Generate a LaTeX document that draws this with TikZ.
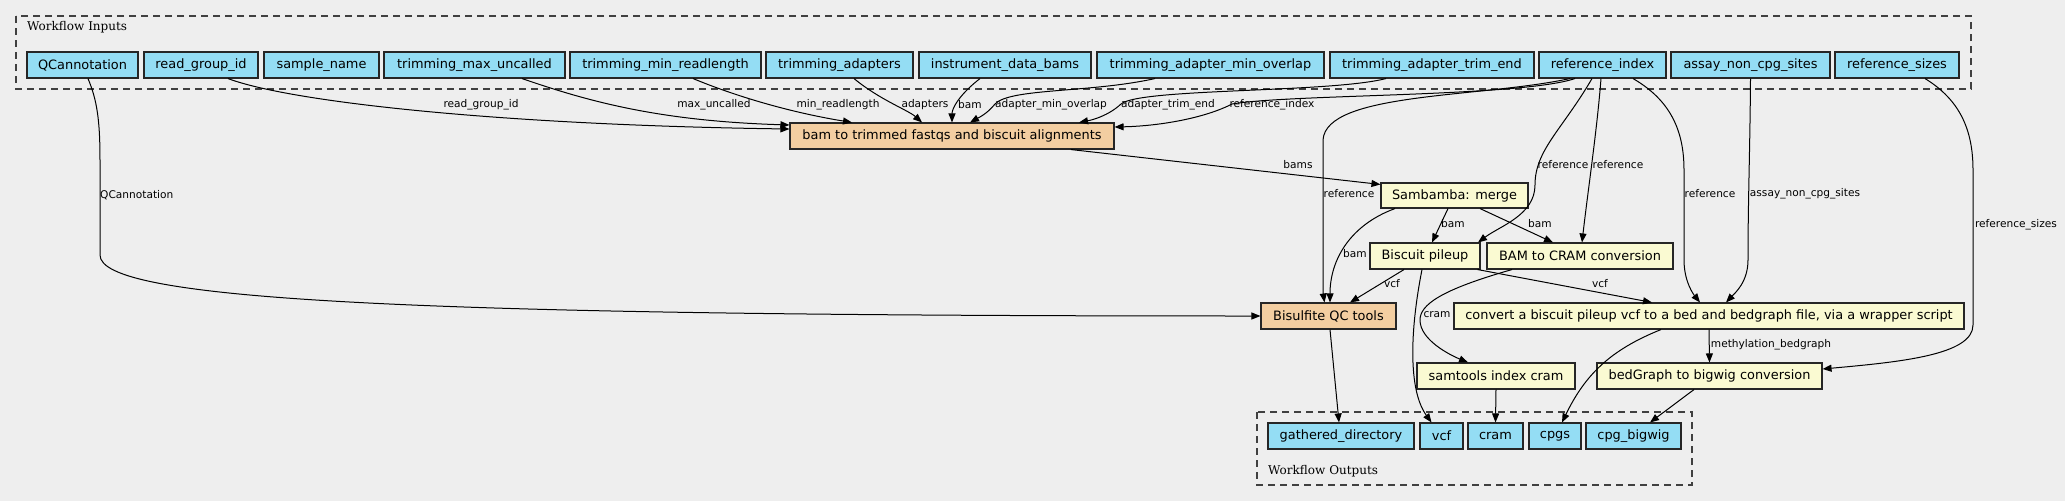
\documentclass[tikz,border=0pt]{standalone}
\usepackage{fontspec}
\setmainfont{DejaVu Sans}
\newfontfamily\clusterfont{DejaVu Serif}
\usepackage{xcolor}
\usetikzlibrary{calc,
	positioning,
	arrows.meta}
\definecolor{canvasgray}{HTML}{EEEEEE}
\definecolor{inputblue}{HTML}{94DDF4}
\definecolor{stepyellow}{HTML}{FAFAD2}
\definecolor{subflow}{HTML}{F3CEA1}

\begin{document}
\begin{tikzpicture}[x=1pt, y=-1pt,
	nodebox/.style={draw=black!85, line width=1.1pt, inner sep=0pt, minimum height=26pt, font=\fontsize{12.9}{15}\selectfont},
	inputbox/.style={nodebox, fill=inputblue},
	stepbox/.style={nodebox, fill=stepyellow},
	subflowbox/.style={nodebox, fill=subflow},
	cluster/.style={draw=black!75, line width=1.2pt, dash pattern=on 7pt off 5pt},
	clusterlabel/.style={anchor=west, inner sep=0pt, font=\clusterfont\fontsize{12}{14}\selectfont},
	edgelabel/.style={inner sep=0pt, font=\fontsize{10.6}{12}\selectfont},
	flow/.style={line width=1pt, -{Triangle[length=9pt, width=7pt]}}]
	\fill[canvasgray] (0,0) rectangle (2065,501);
	\useasboundingbox (0,0) rectangle (2065,501);

	% clusters
	\draw[cluster] (16,16) rectangle (1971,89);
	\node (inlabel) [clusterlabel] at (27,27) {Workflow Inputs};
	\draw[cluster] (1257,412) rectangle (1692,485);
	\node (outlabel) [clusterlabel] at (1268,471) {Workflow Outputs};

	% workflow inputs
	\node (qcannotation) [inputbox, minimum width=111pt] at (82.5,65) {QCannotation};
	\node (readgroupid) [inputbox, minimum width=114pt] at (201,65) {read\_group\_id};
	\node (samplename) [inputbox, minimum width=115pt] at (321.5,65) {sample\_name};
	\node (maxuncalled) [inputbox, minimum width=181pt] at (474.5,65) {trimming\_max\_uncalled};
	\node (minreadlength) [inputbox, minimum width=191pt] at (665.5,65) {trimming\_min\_readlength};
	\node (adapters) [inputbox, minimum width=147pt] at (839.5,65) {trimming\_adapters};
	\node (databams) [inputbox, minimum width=172pt] at (1005,65) {instrument\_data\_bams};
	\node (minoverlap) [inputbox, minimum width=227pt] at (1210.5,65) {trimming\_adapter\_min\_overlap};
	\node (trimend) [inputbox, minimum width=204pt] at (1432,65) {trimming\_adapter\_trim\_end};
	\node (refindex) [inputbox, minimum width=127pt] at (1602.5,65) {reference\_index};
	\node (noncpg) [inputbox, minimum width=159pt] at (1750.5,65) {assay\_non\_cpg\_sites};
	\node (refsizes) [inputbox, minimum width=124pt] at (1897,65) {reference\_sizes};

	% steps
	\node (trimfastq) [subflowbox, minimum width=324pt] at (952,136) {bam to trimmed fastqs and biscuit alignments};
	\node (sambamba) [stepbox, minimum width=147pt, minimum height=25pt] at (1454.5,195.5) {Sambamba: merge};
	\node (pileup) [stepbox, minimum width=110pt] at (1425,256) {Biscuit pileup};
	\node (bamtocram) [stepbox, minimum width=186pt] at (1580,256) {BAM to CRAM conversion};
	\node (qctools) [subflowbox, minimum width=135pt] at (1328.5,316) {Bisulfite QC tools};
	\node (tobed) [stepbox, minimum width=510pt] at (1709,316) {convert a biscuit pileup vcf to a bed and bedgraph file, via a wrapper script};
	\node (indexcram) [stepbox, minimum width=158pt] at (1496,376) {samtools index cram};
	\node (tobigwig) [stepbox, minimum width=225pt] at (1709.5,376) {bedGraph to bigwig conversion};

	% workflow outputs
	\node (gathered) [inputbox, minimum width=146pt] at (1341,436) {gathered\_directory};
	\node (outvcf) [inputbox, minimum width=43pt] at (1441.5,436) {vcf};
	\node (outcram) [inputbox, minimum width=55pt] at (1495.5,436) {cram};
	\node (outcpgs) [inputbox, minimum width=52pt] at (1555,436) {cpgs};
	\node (outbigwig) [inputbox, minimum width=95pt] at (1633.5,436) {cpg\_bigwig};

	% inputs into the first subworkflow
	\draw[flow] ([xshift=27pt]readgroupid.south) .. controls (290,102) and (500,125) .. ([yshift=7pt]trimfastq.west);
	\draw[flow] ([xshift=47.5pt]maxuncalled.south) .. controls (590,102) and (660,121) .. ([yshift=11pt]trimfastq.west);
	\draw[flow] ([xshift=27.5pt]minreadlength.south) .. controls (745,100) and (800,114) .. ([xshift=-100pt]trimfastq.north);
	\draw[flow] ([xshift=14.5pt]adapters.south) .. controls (880,100) and (908,110) .. ([xshift=-30pt]trimfastq.north);
	\draw[flow] ([xshift=-25pt]databams.south) .. controls (960,94) and (952,108) .. (trimfastq.north);
	\draw[flow] ([xshift=-55.5pt]minoverlap.south) .. controls (1090,93) and (1010,88) .. (995,104)
		.. controls (987,114) and (978,118) .. ([xshift=18pt]trimfastq.north);
	\draw[flow] ([xshift=-46pt]trimend.south) .. controls (1330,93) and (1140,88) .. (1121,104)
		.. controls (1108,116) and (1092,120) .. ([xshift=127pt]trimfastq.north);
	\draw[flow] ([xshift=-27.5pt]refindex.south) .. controls (1520,97) and (1290,94) .. (1232,104)
		.. controls (1205,118) and (1160,126) .. ([yshift=9pt]trimfastq.east);
	\node (lreadgroup) [edgelabel] at (481,105) {read\_group\_id};
	\node (lmaxuncalled) [edgelabel] at (714,105) {max\_uncalled};
	\node (lminread) [edgelabel] at (838,105) {min\_readlength};
	\node (ladapters) [edgelabel] at (925,105) {adapters};
	\node (lbams) [edgelabel] at (970,105) {bam};
	\node (lminoverlap) [edgelabel] at (1051,105) {adapter\_min\_overlap};
	\node (ltrimend) [edgelabel] at (1168,105) {adapter\_trim\_end};
	\node (lrefindex) [edgelabel] at (1272,105) {reference\_index};

	% QC annotation and reference inputs
	\draw[flow] ([xshift=5.5pt]qcannotation.south) .. controls (97,100) and (100,120) .. (100,160) -- (100,255)
		.. controls (100,300) and (400,316) .. (qctools.west);
	\node (lqcannot) [edgelabel, anchor=west] at (100,195) {QCannotation};
	\draw[flow] ([xshift=-32.5pt]refindex.south) .. controls (1480,98) and (1326,92) .. (1323,140) -- (1323,292)
		-- ([xshift=-4pt]qctools.north);
	\node (lrefqc) [edgelabel] at (1349,194) {reference};
	\draw[flow] ([xshift=-10.5pt]refindex.south) .. controls (1562,130) and (1535,150) .. (1535,185)
		.. controls (1535,215) and (1500,226) .. ([xshift=53pt]pileup.north);
	\node (lrefpileup) [edgelabel] at (1563,165) {reference};
	\draw[flow] ([xshift=-1.5pt]refindex.south) .. controls (1597,130) and (1588,190) .. ([xshift=2pt]bamtocram.north);
	\node (lrefcram) [edgelabel] at (1618,165) {reference};
	\draw[flow] ([xshift=30.5pt]refindex.south) .. controls (1670,100) and (1684,130) .. (1684,170) -- (1684,260)
		.. controls (1684,282) and (1694,295) .. ([xshift=-9pt]tobed.north);
	\node (lrefbed) [edgelabel] at (1710,194) {reference};
	\draw[flow] (noncpg.south) .. controls (1750,150) and (1748,200) .. (1748,260)
		.. controls (1748,282) and (1735,293) .. ([xshift=17pt]tobed.north);
	\node (lnoncpg) [edgelabel] at (1805,194) {assay\_non\_cpg\_sites};
	\draw[flow] ([xshift=28pt]refsizes.south) .. controls (1960,100) and (1973,130) .. (1973,170) -- (1973,325)
		.. controls (1973,355) and (1900,362) .. ([yshift=7pt]tobigwig.east);
	\node (lrefsizes) [edgelabel] at (2016,225) {reference\_sizes};

	% between steps
	\draw[flow] ([xshift=119pt]trimfastq.south) -- ([yshift=-2pt]sambamba.north west);
	\node (lbamsmerge) [edgelabel] at (1298,165) {bams};
	\draw[flow] ([xshift=-59.5pt]sambamba.south) .. controls (1350,225) and (1330,260) .. ([xshift=1.5pt]qctools.north);
	\node (lbamqc) [edgelabel] at (1355,254) {bam};
	\draw[flow] ([xshift=-6.5pt]sambamba.south) -- ([xshift=7pt]pileup.north);
	\node (lbampileup) [edgelabel] at (1453,224) {bam};
	\draw[flow] ([xshift=25.5pt]sambamba.south) -- ([xshift=-27pt]bamtocram.north);
	\node (lbamcram) [edgelabel] at (1540,224) {bam};
	\draw[flow] ([xshift=-21pt]pileup.south) -- ([xshift=21.5pt]qctools.north);
	\node (lvcfqc) [edgelabel] at (1392,284) {vcf};
	\draw[flow] ([xshift=-3pt]pileup.south east) -- ([xshift=-57pt]tobed.north);
	\node (lvcfbed) [edgelabel] at (1600,284) {vcf};
	\draw[flow] ([xshift=-68pt]bamtocram.south) .. controls (1440,290) and (1420,305) .. (1420,320)
		.. controls (1420,340) and (1450,355) .. ([xshift=-28pt]indexcram.north);
	\node (lcram) [edgelabel] at (1437,315) {cram};
	\draw[flow] (tobed.south) -- (tobigwig.north);
	\node (lbedgraph) [edgelabel] at (1771,345) {methylation\_bedgraph};

	% into the outputs
	\draw[flow] ([xshift=1.5pt]qctools.south) -- ([xshift=-2pt]gathered.north);
	\draw[flow] ([xshift=-3pt]pileup.south) .. controls (1410,330) and (1408,390) .. ([xshift=-10pt]outvcf.north);
	\draw[flow] (indexcram.south) -- (outcram.north);
	\draw[flow] ([xshift=-48pt]tobed.south) .. controls (1610,350) and (1585,375) .. ([xshift=7pt]outcpgs.north);
	\draw[flow] ([xshift=-15.5pt]tobigwig.south) -- ([xshift=16.5pt]outbigwig.north);
\end{tikzpicture}
\end{document}
